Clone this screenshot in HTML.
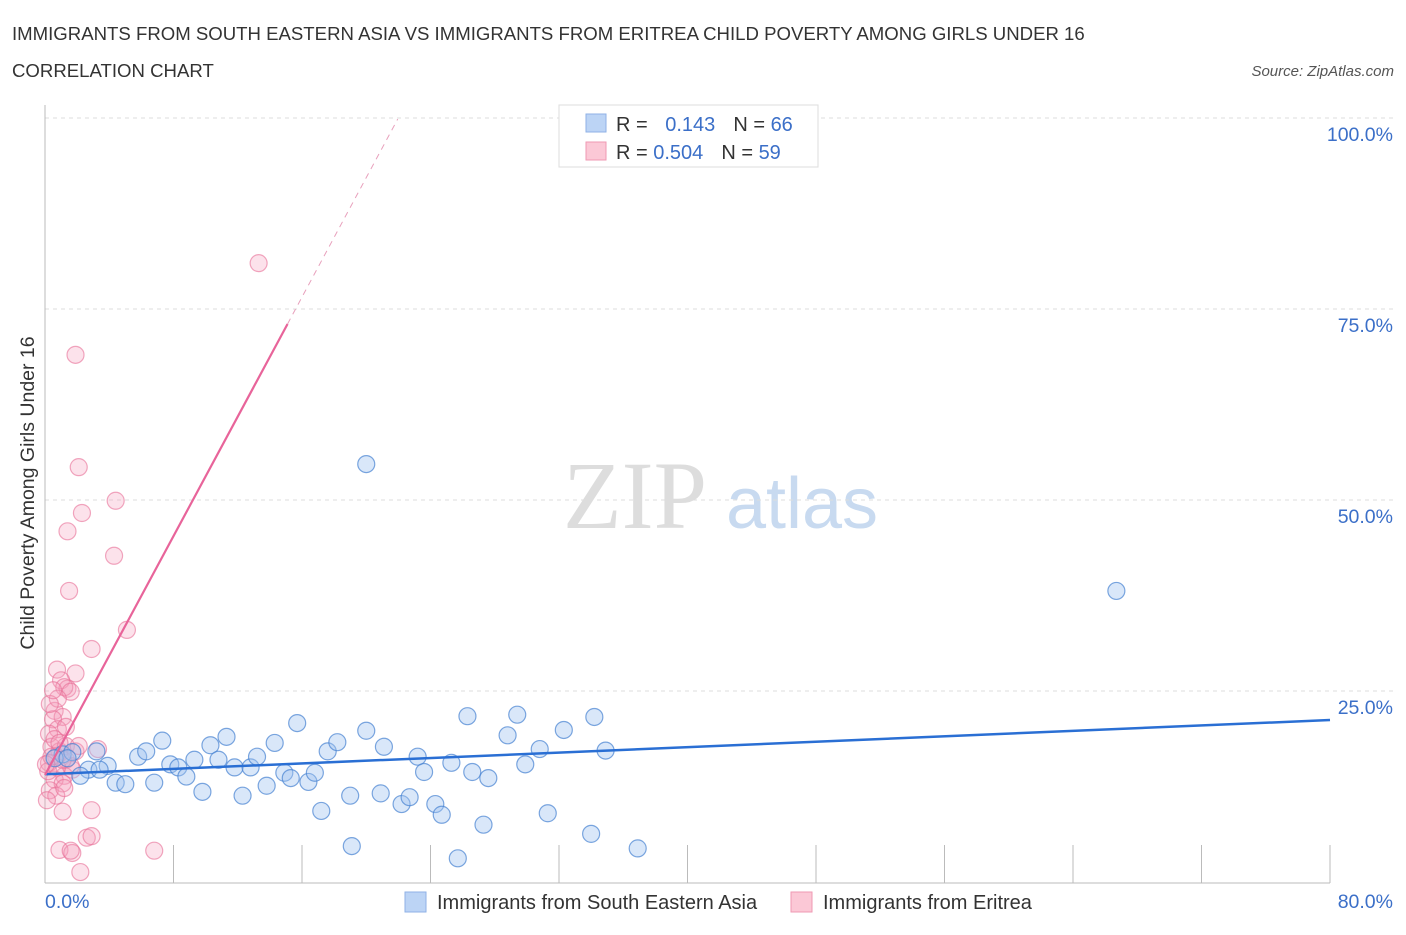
<!DOCTYPE html>
<html><head><meta charset="utf-8"><style>
body{margin:0;background:#fff;font-family:"Liberation Sans",sans-serif;}
</style></head><body>
<svg width="1406" height="930" style="font-family:'Liberation Sans',sans-serif">
<text x="12" y="40" font-size="18.6" fill="#333">IMMIGRANTS FROM SOUTH EASTERN ASIA VS IMMIGRANTS FROM ERITREA CHILD POVERTY AMONG GIRLS UNDER 16</text>
<text x="12" y="77" font-size="18.6" fill="#333">CORRELATION CHART</text>
<text x="1394" y="76" font-size="15" fill="#555" font-style="italic" text-anchor="end">Source: ZipAtlas.com</text>
<text x="635" y="528" font-size="96" fill="#ddd" style="font-family:'Liberation Serif',serif" text-anchor="middle">ZIP</text>
<text x="802" y="528" font-size="72" fill="#c8daf0" text-anchor="middle">atlas</text>
<g id="grid"></g>
<line x1="45" y1="105" x2="45" y2="883" stroke="#bbb"/>
<line x1="45" y1="883" x2="1330" y2="883" stroke="#bbb"/>
<text transform="translate(34,493) rotate(-90)" font-size="19.5" fill="#333" text-anchor="middle">Child Poverty Among Girls Under 16</text>
<text x="45" y="908" font-size="19.5" fill="#3b6fc8">0.0%</text>
<text x="1393" y="908" font-size="19.5" fill="#3b6fc8" text-anchor="end">80.0%</text>
<g id="pts"></g>
<g id="lines"></g>
<g>
<rect x="559" y="105" width="259" height="62" fill="#fff" stroke="#ddd"/>
<rect x="586" y="114" width="20" height="18" fill="#bcd4f5" stroke="#8fb1e6"/>
<rect x="586" y="142" width="20" height="18" fill="#fbc8d6" stroke="#ef99b3"/>
<text x="616" y="131" font-size="20" fill="#333">R = <tspan fill="#3b6fc8" dx="12">0.143</tspan><tspan dx="18">N = </tspan><tspan fill="#3b6fc8">66</tspan></text>
<text x="616" y="159" font-size="20" fill="#333">R = <tspan fill="#3b6fc8">0.504</tspan><tspan dx="18">N = </tspan><tspan fill="#3b6fc8">59</tspan></text>
</g>
<g>
<rect x="405" y="892" width="21" height="20" fill="#bcd4f5" stroke="#8fb1e6"/>
<text x="437" y="909" font-size="20" fill="#333">Immigrants from South Eastern Asia</text>
<rect x="791" y="892" width="21" height="20" fill="#fbc8d6" stroke="#ef99b3"/>
<text x="823" y="909" font-size="20" fill="#333">Immigrants from Eritrea</text>
</g>
</svg>
<script>
const yTicks=[25,50,75,100];
const xTicks=[8,16,24,32,40,48,56,64,72,80];
const blueX=[20.0,66.7,3.2,1.1,2.7,3.9,4.4,5.0,5.8,6.3,6.8,7.3,7.8,8.3,8.8,9.3,9.8,10.3,10.8,11.3,11.8,12.3,12.8,13.2,13.8,14.3,14.9,15.3,15.7,16.4,16.8,17.2,17.6,18.2,19.0,19.1,20.0,20.9,21.1,22.2,22.7,23.2,23.6,24.3,24.7,25.3,25.7,26.3,26.6,27.3,27.6,28.8,29.4,29.9,30.8,31.3,32.3,34.0,34.2,34.9,36.9,1.7,0.6,2.2,1.4,3.4];
const blueY=[54.7,38.1,17.1,16.7,14.7,15.2,13.0,12.8,16.4,17.1,13.0,18.5,15.4,15.0,13.8,16.0,11.8,17.9,16.0,19.0,15.0,11.3,15.0,16.4,12.6,18.2,14.3,13.6,20.8,13.1,14.3,9.3,17.1,18.3,11.3,4.7,19.8,11.6,17.7,10.2,11.1,16.4,14.4,10.2,8.8,15.6,3.1,21.7,14.4,7.5,13.6,19.2,21.9,15.4,17.4,9.0,19.9,6.3,21.6,17.2,4.4,17.0,16.2,13.9,16.2,14.7];
const pinkX=[13.3,1.9,2.1,2.3,4.4,1.4,4.3,1.5,5.1,2.9,0.75,1.9,1.0,1.4,1.2,1.6,0.6,1.1,0.5,0.8,0.25,0.4,0.9,0.7,0.25,1.3,1.7,1.2,0.6,1.1,0.3,0.7,1.2,1.1,2.9,6.8,2.6,2.9,0.9,1.7,1.6,2.2,3.3,0.6,0.8,0.3,1.3,0.2,1.6,1.9,0.75,0.4,0.06,0.9,1.3,0.5,0.12,2.1,1.1];
const pinkY=[81.0,69.0,54.3,48.3,49.9,45.9,42.7,38.1,33.0,30.5,27.8,27.3,26.4,25.3,25.5,24.9,22.4,21.6,21.3,20.0,19.4,17.7,17.1,16.4,15.6,16.0,14.7,13.9,13.4,12.9,12.0,11.3,12.3,9.2,9.4,4.1,5.8,6.0,4.2,3.8,4.1,1.3,17.4,18.7,24.0,23.3,17.8,14.5,15.2,17.1,15.0,16.4,15.4,18.2,20.3,25.1,10.7,17.8,16.0];
const blueLine=[14.1,21.2];
const pinkLine=[14.0];
const pinkSlope=1.86*16.06/7.64;
const NS='http://www.w3.org/2000/svg';
const sx=v=>45+v*(1330-45)/80;
const sy=v=>882-v*(882-118)/100;
function mk(tag,attrs,parent){const e=document.createElementNS(NS,tag);for(const k in attrs)e.setAttribute(k,attrs[k]);parent.appendChild(e);return e;}
const grid=document.getElementById('grid');
yTicks.forEach(t=>{
 const l=mk('line',{x1:45,x2:1393,y1:sy(t),y2:sy(t),stroke:'#ddd','stroke-dasharray':'4,4'},grid);
 
 
 const tx=mk('text',{x:1393,y:sy(t)+23,'font-size':19.5,fill:'#3b6fc8','text-anchor':'end'},grid);
 tx.textContent=t.toFixed(1)+'%';
 
 
});
xTicks.forEach(t=>{
 const l=mk('line',{x1:sx(t),x2:sx(t),y1:845,y2:883,stroke:'#bbb'},grid);
 
 
});
const pts=document.getElementById('pts');
pinkX.forEach((x,i)=>{
 const c=mk('circle',{cx:sx(x),cy:sy(pinkY[i]),r:8.5,fill:'rgba(246,160,188,0.3)',stroke:'rgba(232,110,150,0.6)','stroke-width':1.2},pts);
 
 
});
blueX.forEach((x,i)=>{
 const c=mk('circle',{cx:sx(x),cy:sy(blueY[i]),r:8.5,fill:'rgba(160,196,240,0.4)',stroke:'rgba(70,130,210,0.7)','stroke-width':1.2},pts);
 
 
});
const lines=document.getElementById('lines');
const bl=mk('line',{x1:sx(0),y1:sy(blueLine[0]),x2:sx(80),y2:sy(blueLine[1]),stroke:'#2a6fd4','stroke-width':2.5},lines);


const pAt=x=>pinkLine[0]+pinkSlope*x;
const xs=15.1, xe=21.96;
const pl=mk('line',{x1:sx(0),y1:sy(pAt(0)),x2:sx(xs),y2:sy(pAt(xs)),stroke:'#e8649a','stroke-width':2.2},lines);


const pd=mk('line',{x1:sx(xs),y1:sy(pAt(xs)),x2:sx(xe),y2:sy(pAt(xe)),stroke:'#e8a0bc','stroke-width':1,'stroke-dasharray':'6,5'},lines);


</script>
</body></html>
